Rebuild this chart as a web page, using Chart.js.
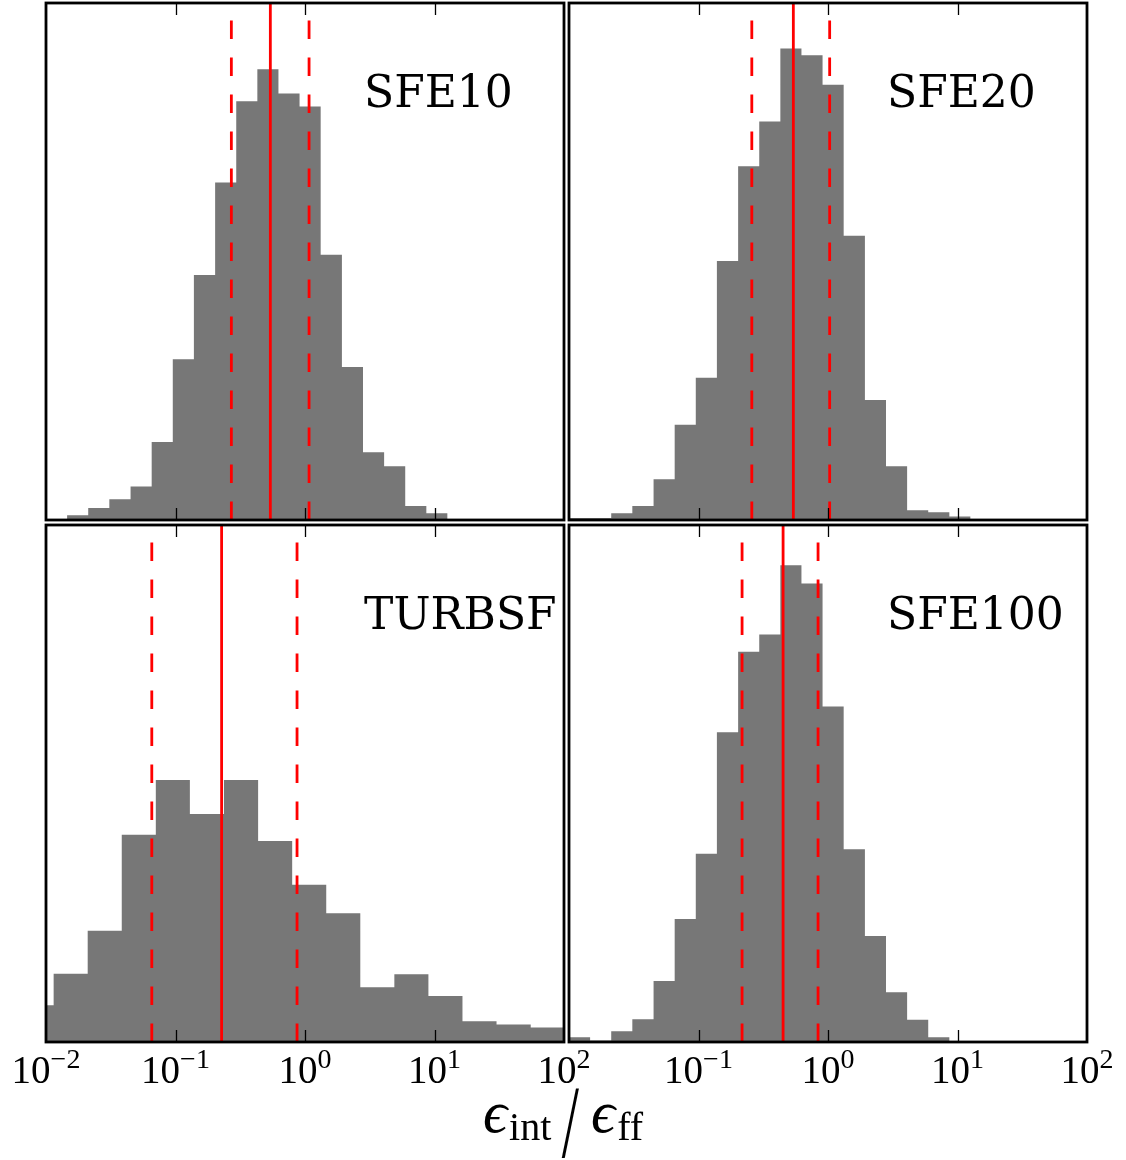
<!DOCTYPE html>
<html>
<head>
<meta charset="utf-8">
<script src="https://cdn.jsdelivr.net/npm/chart.js@4.4.1/dist/chart.umd.min.js"></script>
<style>
  html, body { margin: 0; padding: 0; background: #ffffff; }
  #fig { position: relative; width: 1126px; height: 1160px; overflow: hidden; background: #ffffff; }
  .panel { position: absolute; }
  #xlabel {
    position: absolute; left: 0; top: 1046px; width: 1126px;
    display: flex; justify-content: center; align-items: baseline;
    font-family: "Liberation Serif", "DejaVu Serif", serif; color: #000; white-space: nowrap;
  }
  #xlabel span { line-height: 1; }
  #xlabel .m { font-size: 60px; font-style: italic; }
  #xlabel .s { font-size: 40px; position: relative; top: 8px; margin-left: 2px; }
  #xlabel .sl { font-size: 103px; display: inline-block; transform: scaleX(0.6); position: relative; top: 25px; margin: 0 6px 0 5px; }
</style>
</head>
<body>
<div id="fig">
  <canvas id="c_sfe10" class="panel"></canvas>
  <canvas id="c_sfe20" class="panel"></canvas>
  <canvas id="c_turbsf" class="panel"></canvas>
  <canvas id="c_sfe100" class="panel"></canvas>
  <div id="xlabel"><span class="m">ϵ</span><span class="s">int</span><span class="sl">/</span><span class="m">ϵ</span><span class="s">ff</span></div>
</div>
<script>
// ---------------- DATA ----------------
// histogram bin edges, as log10 of eps_int/eps_ff
const sfeLogEdges = [-2.000, -1.837, -1.674, -1.511, -1.347, -1.184, -1.021, -0.858, -0.694, -0.531,
                     -0.368, -0.205, -0.042, 0.121, 0.285, 0.448, 0.611, 0.774, 0.937, 1.101];
const turbLogEdges = [-2.204, -1.941, -1.678, -1.415, -1.152, -0.889, -0.626, -0.362, -0.099,
                      0.164, 0.427, 0.690, 0.953, 1.216, 1.479, 1.743, 2.006];

// relative bin heights (fraction of the axis height)
const sfe10Counts  = [0, 0.009, 0.023, 0.040, 0.065, 0.151, 0.311, 0.474, 0.653, 0.810,
                      0.872, 0.825, 0.800, 0.513, 0.296, 0.131, 0.104, 0.027, 0.013];
const sfe20Counts  = [0.004, 0.004, 0.013, 0.027, 0.079, 0.184, 0.275, 0.501, 0.684, 0.771,
                      0.912, 0.899, 0.842, 0.550, 0.232, 0.104, 0.019, 0.015, 0.007];
const turbsfCounts = [0.071, 0.132, 0.215, 0.401, 0.507, 0.441, 0.507, 0.389, 0.304, 0.249,
                      0.106, 0.131, 0.089, 0.040, 0.034, 0.028];
const sfe100Counts = [0.009, 0.003, 0.021, 0.044, 0.118, 0.238, 0.364, 0.599, 0.755, 0.788,
                      0.922, 0.887, 0.649, 0.373, 0.205, 0.096, 0.043, 0.009, 0.0014];

// median (solid) and 16th / 84th percentile (dashed) markers
const sfe10Median  = 0.540, sfe10Range  = [0.270, 1.075];
const sfe20Median  = 0.540, sfe20Range  = [0.258, 1.030];
const turbsfMedian = 0.227, turbsfRange = [0.0656, 0.868];
const sfe100Median = 0.450, sfe100Range = [0.217, 0.838];

const panelNames = ["SFE10", "SFE20", "TURBSF", "SFE100"];

// x axis
const xMin = 0.01, xMax = 100;
const xTickValues = [0.01, 0.1, 1, 10, 100];
const xTickExponents = ["\u22122", "\u22121", "0", "1", "2"];
const yMax = 1;

// ---------------- LAYOUT / STYLE ----------------
const M = 60;  // canvas margin around each plot area
const layout = [
  { id: "c_sfe10",  left: 45.5,  top: 2.5, w: 518, h: 517, bottomLabels: false, firstLabel: true },
  { id: "c_sfe20",  left: 568.5, top: 2.5, w: 518, h: 517, bottomLabels: false, firstLabel: true },
  { id: "c_turbsf", left: 45.5,  top: 525, w: 518, h: 517, bottomLabels: true,  firstLabel: true },
  { id: "c_sfe100", left: 568.5, top: 525, w: 518, h: 517, bottomLabels: true,  firstLabel: false }
];
const barColor = "#777777";
const lineColor = "#ff0000";

function histPoints(logEdges, counts) {
  const pts = [];
  for (let i = 0; i < counts.length; i++) pts.push({ x: Math.pow(10, logEdges[i]), y: counts[i] });
  pts.push({ x: Math.pow(10, logEdges[counts.length]), y: counts[counts.length - 1] });
  return pts;
}
function vline(v, dashed) {
  return {
    data: [{ x: v, y: 0 }, { x: v, y: yMax }],
    borderColor: lineColor, borderWidth: 2.8,
    borderDash: dashed ? [18.5, 18.5] : [],
    pointRadius: 0, fill: false, tension: 0, order: 0
  };
}

const panelData = [
  { edges: sfeLogEdges,  counts: sfe10Counts,  med: sfe10Median,  rng: sfe10Range },
  { edges: sfeLogEdges,  counts: sfe20Counts,  med: sfe20Median,  rng: sfe20Range },
  { edges: turbLogEdges, counts: turbsfCounts, med: turbsfMedian, rng: turbsfRange },
  { edges: sfeLogEdges,  counts: sfe100Counts, med: sfe100Median, rng: sfe100Range }
];

const decor = {
  id: "decor",
  afterDatasetsDraw(chart, args, opts) {
    const ctx = chart.ctx;
    const a = chart.chartArea;
    const xs = chart.scales.x;
    ctx.save();
    // ticks (inward, top and bottom)
    ctx.strokeStyle = "#000"; ctx.lineWidth = 1.3;
    xTickValues.forEach(v => {
      if (v <= xMin || v >= xMax) return;
      const px = Math.round(xs.getPixelForValue(v)) + 0.5;
      ctx.beginPath();
      ctx.moveTo(px, a.bottom); ctx.lineTo(px, a.bottom - 12);
      ctx.moveTo(px, a.top); ctx.lineTo(px, a.top + 12);
      ctx.stroke();
    });
    // frame
    ctx.lineWidth = 2.8; ctx.strokeStyle = "#000";
    ctx.strokeRect(a.left, a.top, a.right - a.left, a.bottom - a.top);
    // panel name
    ctx.fillStyle = "#000";
    ctx.font = "44px 'DejaVu Serif'";
    ctx.textBaseline = "alphabetic"; ctx.textAlign = "left";
    ctx.fillText(opts.name, a.left + 0.614 * (a.right - a.left), a.top + 103.5);
    // tick labels
    if (opts.bottomLabels) {
      xTickValues.forEach((v, i) => {
        if (i === 0 && !opts.firstLabel) return;
        const px = xs.getPixelForValue(v);
        ctx.font = "39px 'Liberation Serif'";
        const w1 = ctx.measureText("10").width;
        ctx.font = "28px 'Liberation Serif'";
        const w2 = ctx.measureText(xTickExponents[i]).width;
        const x0 = px - (w1 + w2) / 2;
        ctx.font = "39px 'Liberation Serif'";
        ctx.fillText("10", x0, a.bottom + 41);
        ctx.font = "28px 'Liberation Serif'";
        ctx.fillText(xTickExponents[i], x0 + w1, a.bottom + 26);
      });
    }
    ctx.restore();
  }
};

layout.forEach((L, k) => {
  const cv = document.getElementById(L.id);
  cv.width = L.w + 2 * M; cv.height = L.h + 2 * M;
  cv.style.left = (L.left - M) + "px"; cv.style.top = (L.top - M) + "px";
  cv.style.width = cv.width + "px"; cv.style.height = cv.height + "px";
  const d = panelData[k];
  new Chart(cv, {
    type: "line",
    data: {
      datasets: [
        vline(d.med, false),
        vline(d.rng[0], true),
        vline(d.rng[1], true),
        {
          data: histPoints(d.edges, d.counts),
          stepped: true, fill: "origin",
          backgroundColor: barColor, borderColor: "rgba(0,0,0,0)", borderWidth: 0,
          pointRadius: 0, tension: 0, order: 5
        }
      ]
    },
    options: {
      responsive: false, animation: false, events: [],
      layout: { padding: { left: M, right: M, top: M, bottom: M } },
      scales: {
        x: { type: "logarithmic", min: xMin, max: xMax, display: false },
        y: { type: "linear", min: 0, max: yMax, display: false }
      },
      plugins: {
        legend: { display: false }, tooltip: { enabled: false },
        decor: { name: panelNames[k], bottomLabels: L.bottomLabels, firstLabel: L.firstLabel }
      }
    },
    plugins: [decor]
  });
});
</script>
</body>
</html>
